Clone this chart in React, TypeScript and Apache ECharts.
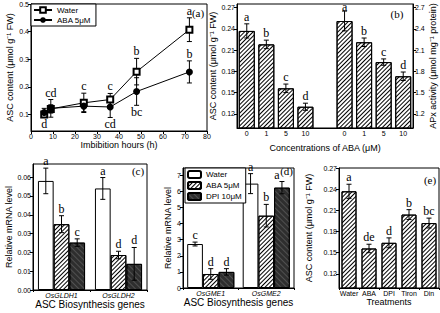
import React, { useEffect, useRef } from "react";
import * as echarts from "echarts";

// ---------- Panel (a) ----------
const hoursA = [6, 9, 24, 36, 48, 72];
const waterA = [0.1, 0.12, 0.142, 0.154, 0.255, 0.407];
const waterErrA = [0.01, 0.015, 0.035, 0.022, 0.048, 0.043];
const abaA = [0.107, 0.122, 0.13, 0.127, 0.183, 0.254];
const abaErrA = [0.015, 0.032, 0.02, 0.038, 0.05, 0.04];
const waterLettersA = ["d", "", "c", "c", "b", "a"];
const waterPlaceA = ["below", "", "above", "above", "above", "above"];
const abaLettersA = ["", "cd", "", "cd", "bc", "b"];
const abaPlaceA = ["", "above", "", "below", "below", "above"];
const yTicksA = [0.1, 0.2, 0.3, 0.4, 0.5];

// ---------- Panel (b) ----------
const concLabels = ["0", "1", "5", "10"];
const ascB = [0.237, 0.218, 0.156, 0.13];
const ascErrB = [0.01, 0.006, 0.006, 0.005];
const apxB = [2.51, 2.21, 1.93, 1.73];
const apxErrB = [0.14, 0.06, 0.045, 0.06];
const lettersB = ["a", "b", "c", "d"];
const yTicksBLeft = [0.12, 0.15, 0.18, 0.21, 0.24, 0.27];
const yTicksBRight = [1.2, 1.5, 1.8, 2.1, 2.4, 2.7];

// ---------- Panel (c) ----------
const genesC = ["OsGLDH1", "OsGLDH2"];
const waterC = [0.058, 0.054];
const waterErrC = [0.0068, 0.0058];
const abaC = [0.035, 0.0186];
const abaErrC = [0.0045, 0.002];
const dpiC = [0.0252, 0.0139];
const dpiErrC = [0.002, 0.0087];
const waterLettersC = ["a", "a"];
const abaLettersC = ["b", "d"];
const dpiLettersC = ["c", "d"];
const yTicksC = [0, 0.01, 0.02, 0.03, 0.04, 0.05, 0.06];

// ---------- Panel (d) ----------
const genesD = ["OsGME1", "OsGME2"];
const waterD = [2.73, 6.48];
const waterErrD = [0.12, 0.62];
const abaD = [0.87, 4.49];
const abaErrD = [0.33, 0.7];
const dpiD = [1.0, 6.23];
const dpiErrD = [0.2, 0.38];
const waterLettersD = ["c", "a"];
const abaLettersD = ["d", "b"];
const dpiLettersD = ["d", "a"];
const yTicksD = [0, 1, 2, 3, 4, 5, 6, 7];

// ---------- Panel (e) ----------
const treatmentsE = ["Water", "ABA", "DPI", "Tiron", "Din"];
const ascE = [0.237, 0.156, 0.164, 0.204, 0.192];
const ascErrE = [0.01, 0.006, 0.007, 0.007, 0.007];
const lettersE = ["a", "de", "d", "b", "bc"];
const yTicksE = [0.12, 0.15, 0.18, 0.21, 0.24, 0.27];

const SANS = "Liberation Sans";
const SERIF = "Liberation Serif";
const BLACK = "#000";

const hatch = {
  color: "#fff",
  borderColor: BLACK,
  borderWidth: 1,
  decal: {
    symbol: "rect",
    symbolSize: 1,
    dashArrayX: [1, 0],
    dashArrayY: [1, 2],
    rotation: -Math.PI / 4,
    color: "#000",
  },
};
const dark = {
  color: "#2e2e2e",
  borderColor: BLACK,
  borderWidth: 1,
  decal: {
    symbol: "rect",
    symbolSize: 1,
    dashArrayX: [1, 0],
    dashArrayY: [1, 3],
    rotation: Math.PI / 4,
    color: "#505050",
  },
};
const white = { color: "#fff", borderColor: BLACK, borderWidth: 1 };

const axisLine = { show: true, onZero: false, lineStyle: { color: BLACK, width: 1 } };

function yAxisCfg(
  gridIndex: number,
  min: number,
  max: number,
  ticks: number[],
  digits: number,
  name: string,
  nameGap: number,
  position: "left" | "right" = "left"
) {
  return {
    type: "value",
    gridIndex,
    min,
    max,
    position,
    name,
    nameLocation: "middle",
    nameGap,
    nameRotate: 90,
    nameTextStyle: { fontSize: 9, fontFamily: SANS, color: BLACK },
    axisLine,
    axisTick: { show: true, length: 3, customValues: ticks, lineStyle: { color: BLACK } },
    axisLabel: {
      customValues: ticks,
      fontSize: 7,
      fontFamily: SANS,
      color: BLACK,
      margin: 2,
      formatter: (v: number) => v.toFixed(digits),
    },
    splitLine: { show: false },
  };
}

function catAxisCfg(
  gridIndex: number,
  data: string[],
  name: string,
  nameGap: number,
  nameSize: number,
  italic: boolean,
  showTick: boolean,
  formatter?: (v: string, i: number) => string
) {
  return {
    type: "category",
    gridIndex,
    data,
    boundaryGap: true,
    name,
    nameLocation: "middle",
    nameGap,
    nameTextStyle: { fontSize: nameSize, fontFamily: SANS, color: BLACK },
    axisLine,
    axisTick: { show: showTick, length: 2, lineStyle: { color: BLACK } },
    axisLabel: {
      interval: 0,
      fontSize: 7,
      fontFamily: SANS,
      fontStyle: italic ? "italic" : "normal",
      color: BLACK,
      margin: 2,
      formatter,
    },
    splitLine: { show: false },
  };
}

function errorSeries(
  xAxisIndex: number,
  yAxisIndex: number,
  xs: number[],
  vals: number[],
  errs: number[],
  letters: string[],
  places: string[],
  offset: number,
  cap: number,
  letterShift: number[] = []
) {
  return {
    type: "custom",
    xAxisIndex,
    yAxisIndex,
    z: 10,
    clip: false,
    silent: true,
    data: xs.map((x, i) => [x, vals[i], errs[i]]),
    renderItem: (params: any, api: any) => {
      const i = params.dataIndex;
      const x = api.value(0);
      const v = api.value(1);
      const e = api.value(2);
      const pTop = api.coord([x, v + e]);
      const pBot = api.coord([x, v - e]);
      const cx = pTop[0] + offset;
      const ln = (x1: number, y1: number, x2: number, y2: number) => ({
        type: "line",
        shape: { x1, y1, x2, y2 },
        style: { stroke: BLACK, lineWidth: 1 },
      });
      const children: any[] = [
        ln(cx, pTop[1], cx, pBot[1]),
        ln(cx - cap, pTop[1], cx + cap, pTop[1]),
        ln(cx - cap, pBot[1], cx + cap, pBot[1]),
      ];
      const t = letters[i];
      if (t) {
        const above = places[i] !== "below";
        children.push({
          type: "text",
          style: {
            text: t,
            x: cx + (letterShift[i] || 0),
            y: above ? Math.max(pTop[1] - 1, 13) : pBot[1] + 1,
            align: "center",
            verticalAlign: above ? "bottom" : "top",
            fontSize: 12,
            fontFamily: SERIF,
            fill: BLACK,
          },
        });
      }
      return { type: "group", children };
    },
  };
}

const ABOVE2 = ["above", "above"];
const ABOVE4 = ["above", "above", "above", "above"];
const ABOVE5 = ["above", "above", "above", "above", "above"];

export default function App() {
  const ref = useRef<HTMLDivElement>(null);
  useEffect(() => {
    if (!ref.current) return;
    const chart = echarts.init(ref.current, undefined, { renderer: "svg" });
    const bAll = [...concLabels, "", ...concLabels];
    const W_C = 15.7;
    const W_D = 15.7;
    const gridBase = { show: true, borderColor: BLACK, borderWidth: 1, backgroundColor: "transparent", containLabel: false, outerBoundsMode: "none" };
    const option: any = {
      animation: false,
      backgroundColor: "#fff",
      textStyle: { fontFamily: SANS },
      grid: [
        { ...gridBase, left: 31, top: 4, width: 176, height: 127 },
        { ...gridBase, left: 237, top: 4, width: 176, height: 124 },
        { ...gridBase, left: 33, top: 164, width: 114, height: 126 },
        { ...gridBase, left: 183, top: 168, width: 111, height: 120 },
        { ...gridBase, left: 339, top: 168, width: 100, height: 120 },
      ],
      xAxis: [
        {
          type: "value",
          gridIndex: 0,
          min: 0,
          max: 80,
          interval: 10,
          name: "Imbibition hours (h)",
          nameLocation: "middle",
          nameGap: 9,
          nameTextStyle: { fontSize: 9, fontFamily: SANS, color: BLACK },
          axisLine,
          axisTick: { show: true, length: 3, lineStyle: { color: BLACK } },
          axisLabel: { fontSize: 7, fontFamily: SANS, color: BLACK, margin: 2 },
          splitLine: { show: false },
        },
        catAxisCfg(1, bAll.map((_, i) => String(i)), "Concentrations of ABA (μM)", 15, 9, false, false, (_v, i) => bAll[i]),
        catAxisCfg(2, genesC, "ASC Biosynthesis genes", 5, 10, true, true),
        catAxisCfg(3, genesD, "ASC Biosynthesis genes", 6, 10, true, true),
        catAxisCfg(4, treatmentsE, "Treatments", 9, 9, false, true),
      ],
      yAxis: [
        yAxisCfg(0, 0.04, 0.5, yTicksA, 1, "ASC content (μmol g⁻¹ FW)", 17),
        yAxisCfg(1, 0.1, 0.275, yTicksBLeft, 2, "ASC content (μmol g⁻¹ FW)", 17),
        yAxisCfg(1, 1.0, 2.75, yTicksBRight, 1, "APx activity (μmol mg⁻¹ protein)", 15, "right"),
        yAxisCfg(2, 0, 0.067, yTicksC, 2, "Relative mRNA level", 19),
        yAxisCfg(3, 0, 7.45, yTicksD, 0, "Relative mRNA level", 11),
        yAxisCfg(4, 0.1, 0.27, yTicksE, 2, "ASC content (μmol g⁻¹ FW)", 26),
      ],
      legend: [
        {
          data: ["Water", "ABA 5μM"],
          left: 31,
          top: 4,
          orient: "vertical",
          padding: [2, 5, 2, 2],
          itemGap: 2,
          itemWidth: 18,
          itemHeight: 7,
          borderColor: BLACK,
          borderWidth: 1,
          backgroundColor: "#fff",
          selectedMode: false,
          textStyle: { fontSize: 8, fontFamily: SANS, color: BLACK },
        },
        {
          data: ["Water ", "ABA 5μM ", "DPI 10μM"],
          formatter: (n: string) => n.trim(),
          left: 185,
          top: 168,
          orient: "vertical",
          padding: [2, 4, 2, 2],
          itemGap: 2,
          itemWidth: 13,
          itemHeight: 7,
          borderColor: BLACK,
          borderWidth: 1,
          backgroundColor: "#fff",
          selectedMode: false,
          textStyle: { fontSize: 8, fontFamily: SANS, color: BLACK },
        },
      ],
      graphic: [
        { type: "text", x: 198, y: 13, style: { text: "(a)", fontSize: 11, fontFamily: SERIF, fill: BLACK, align: "center", verticalAlign: "middle" } },
        { type: "text", x: 397, y: 14, style: { text: "(b)", fontSize: 11, fontFamily: SERIF, fill: BLACK, align: "center", verticalAlign: "middle" } },
        { type: "text", x: 138, y: 171, style: { text: "(c)", fontSize: 11, fontFamily: SERIF, fill: BLACK, align: "center", verticalAlign: "middle" } },
        { type: "text", x: 293, y: 171, style: { text: "(d)", fontSize: 11, fontFamily: SERIF, fill: BLACK, align: "right", verticalAlign: "middle" } },
        { type: "text", x: 430, y: 180, style: { text: "(e)", fontSize: 11, fontFamily: SERIF, fill: BLACK, align: "center", verticalAlign: "middle" } },
      ],
      series: [
        // (a)
        errorSeries(0, 0, hoursA, waterA, waterErrA, waterLettersA, waterPlaceA, 0, 2.5),
        errorSeries(0, 0, hoursA, abaA, abaErrA, abaLettersA, abaPlaceA, 0, 2.5),
        {
          type: "line",
          name: "Water",
          xAxisIndex: 0,
          yAxisIndex: 0,
          z: 12,
          data: hoursA.map((h, i) => [h, waterA[i]]),
          symbol: "emptyRect",
          symbolSize: 6,
          lineStyle: { color: BLACK, width: 1 },
          itemStyle: { color: BLACK, borderColor: BLACK, borderWidth: 1 },
        },
        {
          type: "line",
          name: "ABA 5μM",
          xAxisIndex: 0,
          yAxisIndex: 0,
          z: 12,
          data: hoursA.map((h, i) => [h, abaA[i]]),
          symbol: "circle",
          symbolSize: 7,
          lineStyle: { color: BLACK, width: 1 },
          itemStyle: { color: BLACK },
        },
        // (b)
        {
          type: "bar",
          name: "ASC (b)",
          xAxisIndex: 1,
          yAxisIndex: 1,
          barWidth: 16,
          barGap: "-100%",
          data: [...ascB, "-", "-", "-", "-", "-"],
          itemStyle: hatch,
        },
        {
          type: "bar",
          name: "APx (b)",
          xAxisIndex: 1,
          yAxisIndex: 2,
          barWidth: 16,
          barGap: "-100%",
          data: ["-", "-", "-", "-", "-", ...apxB],
          itemStyle: hatch,
        },
        errorSeries(1, 1, [0, 1, 2, 3], ascB, ascErrB, lettersB, ABOVE4, 0, 2.5),
        errorSeries(1, 2, [5, 6, 7, 8], apxB, apxErrB, lettersB, ABOVE4, 0, 2.5),
        // (c)
        { type: "bar", name: "Water ", xAxisIndex: 2, yAxisIndex: 3, barWidth: W_C, barGap: "0%", data: waterC, itemStyle: white },
        { type: "bar", name: "ABA 5μM ", xAxisIndex: 2, yAxisIndex: 3, barWidth: W_C, barGap: "0%", data: abaC, itemStyle: hatch },
        { type: "bar", name: "DPI 10μM", xAxisIndex: 2, yAxisIndex: 3, barWidth: W_C, barGap: "0%", data: dpiC, itemStyle: dark },
        errorSeries(2, 3, [0, 1], waterC, waterErrC, waterLettersC, ABOVE2, -W_C, 2.5),
        errorSeries(2, 3, [0, 1], abaC, abaErrC, abaLettersC, ABOVE2, 0, 2.5),
        errorSeries(2, 3, [0, 1], dpiC, dpiErrC, dpiLettersC, ABOVE2, W_C, 2.5),
        // (d)
        { type: "bar", name: "Water ", xAxisIndex: 3, yAxisIndex: 4, barWidth: W_D, barGap: "0%", data: waterD, itemStyle: white },
        { type: "bar", name: "ABA 5μM ", xAxisIndex: 3, yAxisIndex: 4, barWidth: W_D, barGap: "0%", data: abaD, itemStyle: hatch },
        { type: "bar", name: "DPI 10μM", xAxisIndex: 3, yAxisIndex: 4, barWidth: W_D, barGap: "0%", data: dpiD, itemStyle: dark },
        errorSeries(3, 4, [0, 1], waterD, waterErrD, waterLettersD, ABOVE2, -W_D, 2.5),
        errorSeries(3, 4, [0, 1], abaD, abaErrD, abaLettersD, ABOVE2, 0, 2.5),
        errorSeries(3, 4, [0, 1], dpiD, dpiErrD, dpiLettersD, ABOVE2, W_D, 2.5, [0, -5]),
        // (e)
        { type: "bar", name: "ASC (e)", xAxisIndex: 4, yAxisIndex: 5, barWidth: 15, data: ascE, itemStyle: hatch },
        errorSeries(4, 5, [0, 1, 2, 3, 4], ascE, ascErrE, lettersE, ABOVE5, 0, 2.5),
      ],
    };
    chart.setOption(option);
    return () => chart.dispose();
  }, []);
  return (
    <div
      ref={ref}
      style={{ position: "fixed", left: 0, top: 0, width: 440, height: 313, background: "#fff" }}
    />
  );
}
